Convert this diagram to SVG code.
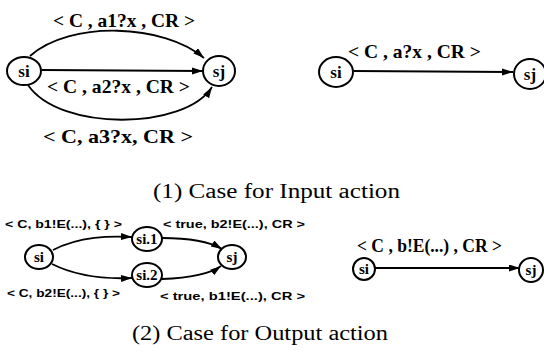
<svg xmlns="http://www.w3.org/2000/svg" width="544" height="360" viewBox="0 0 544 360">
  <style>
    .node { fill: none; stroke: #000; stroke-width: 2; }
    .edge { fill: none; stroke: #000; stroke-width: 1.8; }
    .name { font-weight: bold; font-size: 17px; text-anchor: middle; fill: #000; }
    .sname { font-weight: bold; font-size: 15px; text-anchor: middle; fill: #000; }
    .lab { font-weight: bold; font-size: 19px; fill: #000; }
    .slab { font-weight: bold; font-size: 11px; fill: #000; }
    .cap { font-size: 20px; fill: #000; }
  </style>
  <defs>
    <marker id="arrow" markerUnits="userSpaceOnUse" markerWidth="12" markerHeight="8" refX="11" refY="3.5" orient="auto">
      <path d="M0,0 L11,3.5 L0,7 z" fill="#000"/>
    </marker>
  </defs>
  <rect width="544" height="360" fill="#fff"/>

  <!-- connectors -->
  <g id="connectors">
    <path class="edge" d="M30,56 C70,20 165,24 204,58" marker-end="url(#arrow)"/>
    <path class="edge" d="M42,70 L203,71" marker-end="url(#arrow)"/>
    <path class="edge" d="M28,85 C60,132 185,130 212,87" marker-end="url(#arrow)"/>
    <path class="edge" d="M354,71 L513,72" marker-end="url(#arrow)"/>
    <path class="edge" d="M53,250 C80,236 110,236 132,237" marker-end="url(#arrow)"/>
    <path class="edge" d="M52,264 C80,278 110,279 132,278" marker-end="url(#arrow)"/>
    <path class="edge" d="M162,238 C190,238 210,242 222,249" marker-end="url(#arrow)"/>
    <path class="edge" d="M162,279 C190,278 210,274 221,266" marker-end="url(#arrow)"/>
    <path class="edge" d="M375,268 L520,268" marker-end="url(#arrow)"/>
  </g>

  <!-- edge labels -->
  <g id="labels">
    <g font-family="Liberation Serif, Times New Roman, serif">
      <text class="lab" x="53" y="27" textLength="142" lengthAdjust="spacingAndGlyphs">&lt; C , a1?x , CR &gt;</text>
      <text class="lab" x="47" y="93" textLength="143" lengthAdjust="spacingAndGlyphs">&lt; C , a2?x , CR &gt;</text>
      <text class="lab" x="43" y="143" textLength="150" lengthAdjust="spacingAndGlyphs">&lt; C, a3?x, CR &gt;</text>
      <text class="lab" x="348" y="58" textLength="133" lengthAdjust="spacingAndGlyphs">&lt; C , a?x , CR &gt;</text>
      <text class="lab" x="357" y="252" font-size="16" textLength="145" lengthAdjust="spacingAndGlyphs">&lt; C , b!E(...) , CR &gt;</text>
    </g>
    <g font-family="Liberation Sans, Arial, sans-serif">
      <text class="slab" x="5" y="228" textLength="117" lengthAdjust="spacingAndGlyphs">&lt; C, b1!E(...), { } &gt;</text>
      <text class="slab" x="7" y="297" textLength="113" lengthAdjust="spacingAndGlyphs">&lt; C, b2!E(...), { } &gt;</text>
      <text class="slab" x="163" y="228" textLength="142" lengthAdjust="spacingAndGlyphs">&lt; true, b2!E(...), CR &gt;</text>
      <text class="slab" x="160" y="300" textLength="145" lengthAdjust="spacingAndGlyphs">&lt; true, b1!E(...), CR &gt;</text>
    </g>
  </g>

  <g font-family="Liberation Serif, Times New Roman, serif">
    <!-- (1) input action, expanded -->
    <g id="in-si"><ellipse class="node" cx="24" cy="71" rx="17" ry="14"/><text class="name" x="24" y="77">si</text></g>
    <g id="in-sj"><ellipse class="node" cx="219" cy="71" rx="16" ry="15"/><text class="name" x="219" y="77">sj</text></g>

    <!-- (1) input action, collapsed -->
    <g id="in2-si"><ellipse class="node" cx="336" cy="72" rx="17" ry="15"/><text class="name" x="336" y="78">si</text></g>
    <g id="in2-sj"><ellipse class="node" cx="530" cy="74" rx="16" ry="15"/><text class="name" x="530" y="80">sj</text></g>

    <!-- (2) output action, expanded -->
    <g id="out-si"><ellipse class="node" cx="39" cy="257" rx="14" ry="12"/><text class="sname" x="39" y="262">si</text></g>
    <g id="out-si1"><ellipse class="node" cx="147" cy="239" rx="15" ry="12"/><text class="sname" x="147" y="244">si.1</text></g>
    <g id="out-si2"><ellipse class="node" cx="147" cy="275" rx="15" ry="12"/><text class="sname" x="147" y="280">si.2</text></g>
    <g id="out-sj"><ellipse class="node" cx="232" cy="257" rx="14" ry="12"/><text class="sname" x="232" y="262">sj</text></g>

    <!-- (2) output action, collapsed -->
    <g id="out2-si"><ellipse class="node" cx="364" cy="269" rx="11" ry="11"/><text class="sname" x="364" y="274">si</text></g>
    <g id="out2-sj"><ellipse class="node" cx="531" cy="270" rx="12" ry="12"/><text class="sname" x="531" y="275">sj</text></g>

    <!-- captions -->
    <text class="cap" x="153" y="198" textLength="247" lengthAdjust="spacingAndGlyphs">(1) Case for Input action</text>
    <text class="cap" x="132" y="340" textLength="256" lengthAdjust="spacingAndGlyphs">(2) Case for Output action</text>
  </g>
</svg>
